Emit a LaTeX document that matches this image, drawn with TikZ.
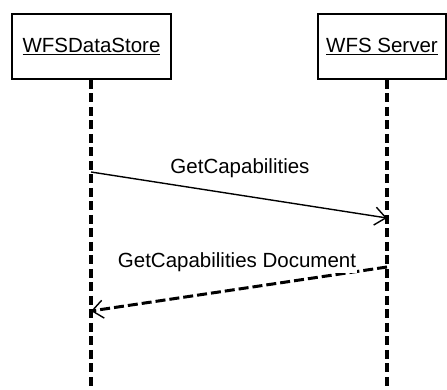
\documentclass[tikz,border=0pt]{standalone}
\usepackage{fontspec}
\setmainfont{Liberation Sans}
\usetikzlibrary{arrows.meta}
\begin{document}
\begin{tikzpicture}[x=1pt,y=-1pt,
  lifebox/.style={draw,line width=1.6pt,minimum height=65pt,inner sep=0pt,font=\fontsize{20.5}{24}\selectfont},
  lifeline/.style={line width=3.4pt,dash pattern=on 9pt off 4.5pt},
  msgtip/.style={-{Straight Barb[length=11pt,width=18pt,line width=1.4pt]}},
  callmsg/.style={line width=1.4pt,msgtip},
  replymsg/.style={line width=3pt,dash pattern=on 10pt off 4pt,msgtip},
  msglabel/.style={font=\fontsize{20.5}{24}\selectfont,inner sep=1pt}]
\useasboundingbox (0,0) rectangle (447,390);
% participants
\node[lifebox,minimum width=159pt] (a) at (91.5,46.5) {\underline{WFSDataStore}};
\node[lifebox,minimum width=128pt] (b) at (382,46.5) {\underline{WFS Server}};
% lifelines
\coordinate (aend) at (91,392);
\coordinate (bend) at (387,392);
\draw[lifeline] (a.south -| aend) -- (aend);
\draw[lifeline] (b.south -| bend) -- (bend);
% request
\coordinate (m1s) at (91,172);
\coordinate (m1e) at (387,218);
\draw[callmsg] (m1s) -- (m1e);
\node[msglabel] (l1) at (240,168) {GetCapabilities};
% response
\coordinate (m2s) at (387,267);
\coordinate (m2e) at (91,311);
\draw[replymsg] (m2s) -- (m2e);
\node[msglabel,fill=white] (l2) at (237,262) {GetCapabilities Document};
\end{tikzpicture}
\end{document}
